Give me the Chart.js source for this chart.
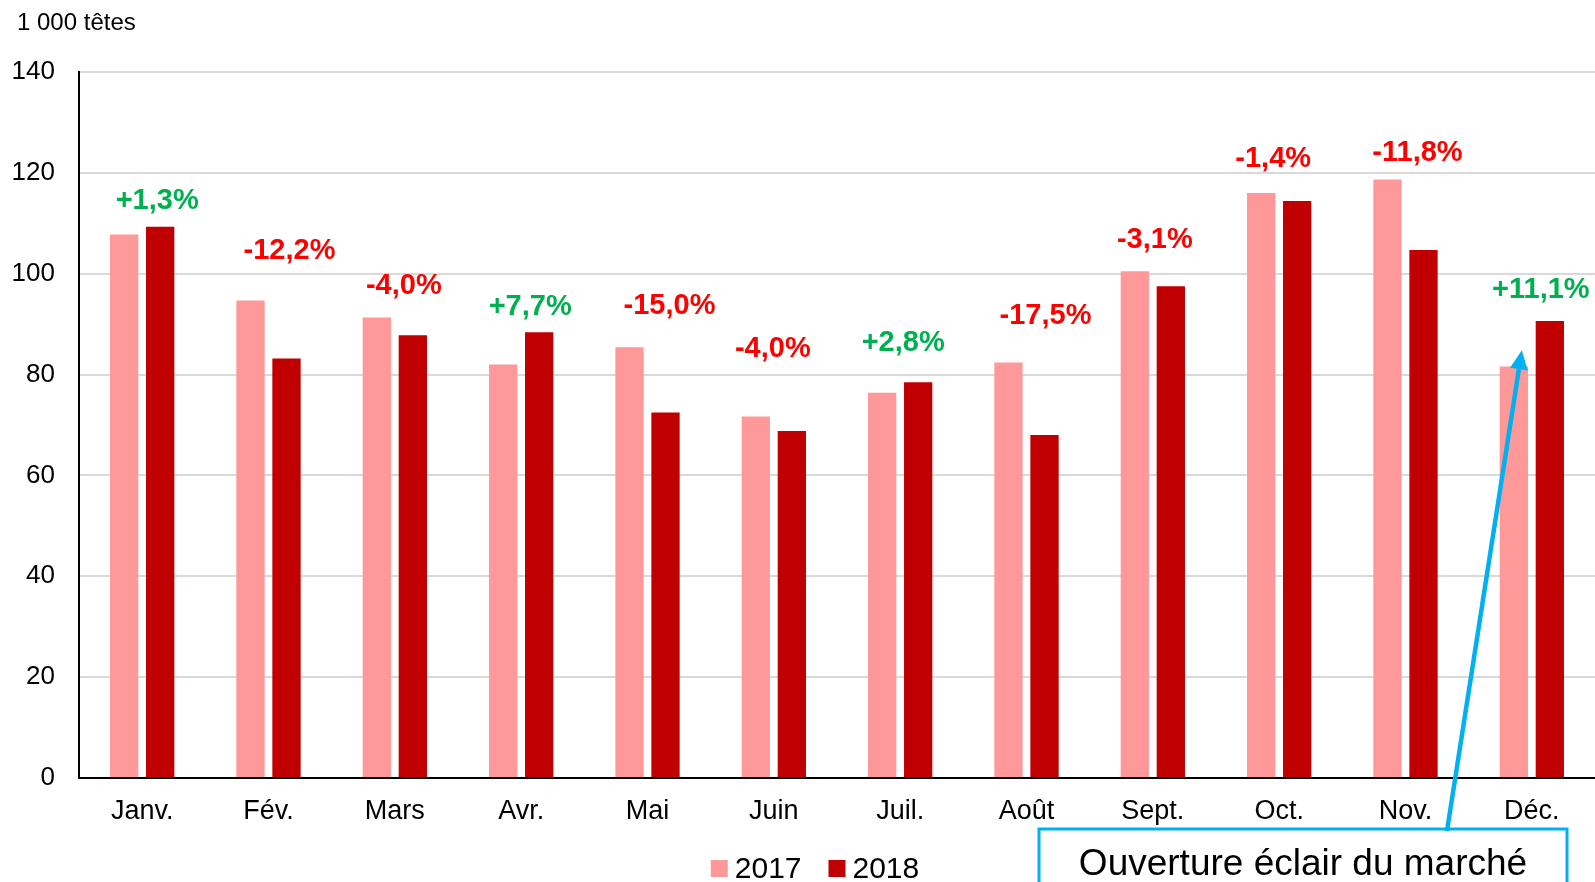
<!DOCTYPE html>
<html lang="fr">
<head>
<meta charset="utf-8">
<title>Abattages mensuels 2017 / 2018</title>
<script src="https://cdn.jsdelivr.net/npm/chart.js@4.4.1/dist/chart.umd.min.js"></script>
<style>
  html, body { margin: 0; padding: 0; background: #fff; }
  canvas { display: block; }
</style>
</head>
<body>
<canvas id="chart" width="1595" height="882"></canvas>
<script>
// ========================================
// Data
// ========================================
const months = ['Janv.', 'Fév.', 'Mars', 'Avr.', 'Mai', 'Juin', 'Juil.', 'Août', 'Sept.', 'Oct.', 'Nov.', 'Déc.'];
const values2017 = [107.8, 94.7, 91.3, 82.0, 85.4, 71.7, 76.4, 82.4, 100.5, 116.0, 118.7, 81.6];
const values2018 = [109.3, 83.2, 87.8, 88.4, 72.5, 68.8, 78.5, 68.0, 97.5, 114.4, 104.7, 90.6];
const changes = ['+1,3%', '-12,2%', '-4,0%', '+7,7%', '-15,0%', '-4,0%', '+2,8%', '-17,5%', '-3,1%', '-1,4%', '-11,8%', '+11,1%'];
const yTicks = [0, 20, 40, 60, 80, 100, 120, 140];

// where each % label sits (axis units + px nudge), placed by hand on the original
const changeLevels = [114.5, 104.5, 97.5, 93.4, 93.6, 85.0, 86.2, 91.7, 106.7, 122.7, 124.0, 96.7];
const changeNudge = [15, 21, 9, 9, 22, -1, 3, 19, 2, -6, 12, 9];

const FONT = "'Liberation Sans', Arial, sans-serif";
const COL_2017 = '#FF9999';
const COL_2018 = '#C00000';
const GREEN = '#00B050';
const RED = '#FF0000';
const CYAN = '#00B0F0';

// ========================================
// Extra drawing: unit, % labels, legend, callout
// ========================================
const decorations = {
    id: 'decorations',
    afterDraw(chart) {
        const { ctx, scales: { x, y } } = chart;
        ctx.save();

        // unit label
        ctx.font = `24px ${FONT}`;
        ctx.fillStyle = '#000';
        ctx.textAlign = 'left';
        ctx.textBaseline = 'alphabetic';
        ctx.fillText('1 000 têtes', 17, 30);

        // % change labels
        ctx.font = `bold 29px ${FONT}`;
        ctx.textAlign = 'center';
        ctx.textBaseline = 'middle';
        changes.forEach((txt, i) => {
            ctx.fillStyle = txt.startsWith('+') ? GREEN : RED;
            ctx.fillText(txt, x.getPixelForValue(i) + changeNudge[i], y.getPixelForValue(changeLevels[i]));
        });

        // legend
        ctx.font = `30px ${FONT}`;
        ctx.textAlign = 'left';
        ctx.textBaseline = 'alphabetic';
        const box = 17, gapBox = 7, gapItem = 27;
        const items = chart.data.datasets.map(ds => ({ label: ds.label, color: ds.backgroundColor, w: ctx.measureText(ds.label).width }));
        const total = items.reduce((s, it) => s + box + gapBox + it.w, 0) + gapItem * (items.length - 1);
        let lx = 815 - total / 2;
        items.forEach(it => {
            ctx.fillStyle = it.color;
            ctx.fillRect(lx, 860, box, box);
            ctx.fillStyle = '#000';
            ctx.fillText(it.label, lx + box + gapBox, 878);
            lx += box + gapBox + it.w + gapItem;
        });

        // callout box
        const bx = 1039, by = 829, bw = 528;
        ctx.strokeStyle = CYAN;
        ctx.lineWidth = 3;
        ctx.strokeRect(bx, by, bw, 100);
        ctx.fillStyle = '#000';
        ctx.font = `37px ${FONT}`;
        ctx.textAlign = 'center';
        ctx.fillText('Ouverture éclair du marché', bx + bw / 2, 875);

        // arrow to December 2017
        const x0 = 1447, y0 = by + 2;
        const x1 = x.getPixelForValue(11) - 10, y1 = y.getPixelForValue(84.8);
        const ang = Math.atan2(y1 - y0, x1 - x0);
        const headLen = 19, headHalf = 9;
        const hx = x1 - headLen * Math.cos(ang), hy = y1 - headLen * Math.sin(ang);
        ctx.strokeStyle = CYAN;
        ctx.lineWidth = 4.5;
        ctx.beginPath();
        ctx.moveTo(x0, y0);
        ctx.lineTo(hx, hy);
        ctx.stroke();
        ctx.fillStyle = CYAN;
        ctx.beginPath();
        ctx.moveTo(x1, y1);
        ctx.lineTo(hx + headHalf * Math.sin(ang), hy - headHalf * Math.cos(ang));
        ctx.lineTo(hx - headHalf * Math.sin(ang), hy + headHalf * Math.cos(ang));
        ctx.closePath();
        ctx.fill();

        ctx.restore();
    }
};

// ========================================
// Chart
// ========================================
new Chart(document.getElementById('chart'), {
    type: 'bar',
    data: {
        labels: months,
        datasets: [
            { label: '2017', data: values2017, backgroundColor: COL_2017, borderWidth: 0 },
            { label: '2018', data: values2018, backgroundColor: COL_2018, borderWidth: 0 }
        ]
    },
    options: {
        responsive: false,
        animation: false,
        layout: { padding: { top: 72, left: 0, right: 0, bottom: 0 } },
        datasets: { bar: { categoryPercentage: 0.57, barPercentage: 0.786 } },
        scales: {
            x: {
                grid: { display: true, color: 'rgba(0,0,0,0)', drawTicks: false },
                border: { display: true, color: '#000', width: 2 },
                ticks: { color: '#000', padding: 17, font: { family: FONT, size: 27 } },
                afterFit(scale) { scale.height = 104; }
            },
            y: {
                min: 0,
                max: 140,
                grid: { color: '#D9D9D9', lineWidth: 2, drawTicks: false },
                border: { display: true, color: '#000', width: 2 },
                afterBuildTicks(scale) { scale.ticks = yTicks.map(v => ({ value: v })); },
                ticks: { color: '#000', padding: 24, font: { family: FONT, size: 26 } },
                afterFit(scale) { scale.width = 79; }
            }
        },
        plugins: {
            legend: { display: false },
            tooltip: { enabled: false }
        }
    },
    plugins: [decorations]
});
</script>
</body>
</html>
